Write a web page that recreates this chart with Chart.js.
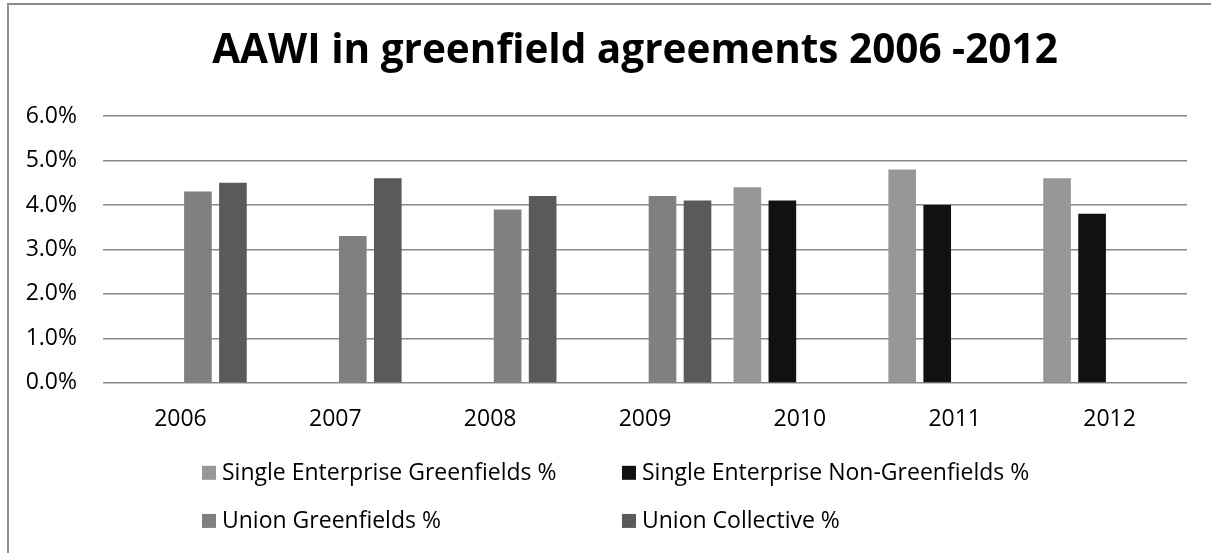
<!DOCTYPE html>
<html><head><meta charset="utf-8">
<script src="https://cdn.jsdelivr.net/npm/chart.js@4.4.0/dist/chart.umd.min.js"></script>
<style>html,body{margin:0;padding:0;background:#fff}#wrap{position:relative;width:1211px;height:553px}</style>
</head><body><div id="wrap"><canvas id="c"></canvas></div>
<script>
const categories = ['2006','2007','2008','2009','2010','2011','2012'];
const seGreenfields = [null,null,null,null,4.4,4.8,4.6];
const seNonGreenfields = [null,null,null,null,4.1,4.0,3.8];
const unionGreenfields = [4.3,3.3,3.9,4.2,null,null,null];
const unionCollective = [4.5,4.6,4.2,4.1,null,null,null];
const yTickLabels = ['0.0%','1.0%','2.0%','3.0%','4.0%','5.0%','6.0%'];
const seriesNames = ['Single Enterprise Greenfields %','Single Enterprise Non-Greenfields %','Union Greenfields %','Union Collective %'];
const seriesColors = ['#979797','#111111','#808080','#5a5a5a'];
const titleText = 'AAWI in greenfield agreements 2006 -2012';

const FONT = '"Open Sans"';
const TEXT_SIZE = 23;

const frame = {
  id: 'frame',
  beforeDraw(chart) {
    const ctx = chart.ctx;
    ctx.save();
    ctx.strokeStyle = '#8c8c8c';
    ctx.lineWidth = 2;
    ctx.beginPath();
    ctx.moveTo(8, chart.height);
    ctx.lineTo(8, 4);
    ctx.lineTo(chart.width, 4);
    ctx.stroke();
    ctx.restore();
  }
};

// centre the title over the plotting area side of the chart (as in the source)
const titleShift = {
  id: 'titleShift',
  afterLayout(chart) {
    if (chart.titleBlock) chart.titleBlock.left = chart.width * 0.0685;
  }
};

const gridLegend = {
  id: 'gridLegend',
  afterDraw(chart) {
    const ctx = chart.ctx;
    const W = chart.width, H = chart.height;
    const cols = [W * 0.1668, W * 0.5136];
    const rows = [H * 0.855, H * 0.942];
    ctx.save();
    ctx.font = TEXT_SIZE + 'px ' + FONT;
    ctx.textBaseline = 'middle';
    ctx.textAlign = 'left';
    chart.data.datasets.forEach((ds, i) => {
      const x = cols[i % 2], y = rows[Math.floor(i / 2)];
      ctx.fillStyle = ds.backgroundColor;
      ctx.fillRect(x, y - 7, 14, 14);
      ctx.fillStyle = '#000';
      ctx.fillText(ds.label, x + 20, y + 1);
    });
    ctx.restore();
  }
};

const datasets = [seGreenfields, seNonGreenfields, unionGreenfields, unionCollective].map((d, i) => ({
  label: seriesNames[i],
  data: d,
  backgroundColor: seriesColors[i],
  borderWidth: 0,
  barPercentage: 0.79,
  categoryPercentage: 0.904
}));

new Chart(document.getElementById('c'), {
  type: 'bar',
  data: { labels: categories, datasets },
  plugins: [frame, titleShift, gridLegend],
  options: {
    responsive: true,
    maintainAspectRatio: false,
    animation: false,
    layout: { padding: { left: 0, right: 24, top: 0, bottom: 105.5 } },
    plugins: {
      legend: { display: false },
      tooltip: { enabled: false },
      title: {
        display: true,
        text: titleText,
        color: '#000',
        font: { family: FONT, size: 40.5, weight: 'bold' },
        padding: { top: 27, bottom: 40.4 }
      }
    },
    scales: {
      x: {
        grid: { display: false },
        border: { display: false },
        ticks: { color: '#000', font: { family: FONT, size: TEXT_SIZE }, padding: 14.5 }
      },
      y: {
        min: 0, max: 6,
        afterFit(scale) { scale.width = 103; },
        grid: { color: '#898989', lineWidth: 1.5, drawTicks: false },
        border: { display: false },
        ticks: {
          stepSize: 1,
          padding: 26,
          color: '#000',
          font: { family: FONT, size: TEXT_SIZE },
          callback: (v) => yTickLabels[Math.round(v)]
        }
      }
    }
  }
});
</script>
</body></html>
